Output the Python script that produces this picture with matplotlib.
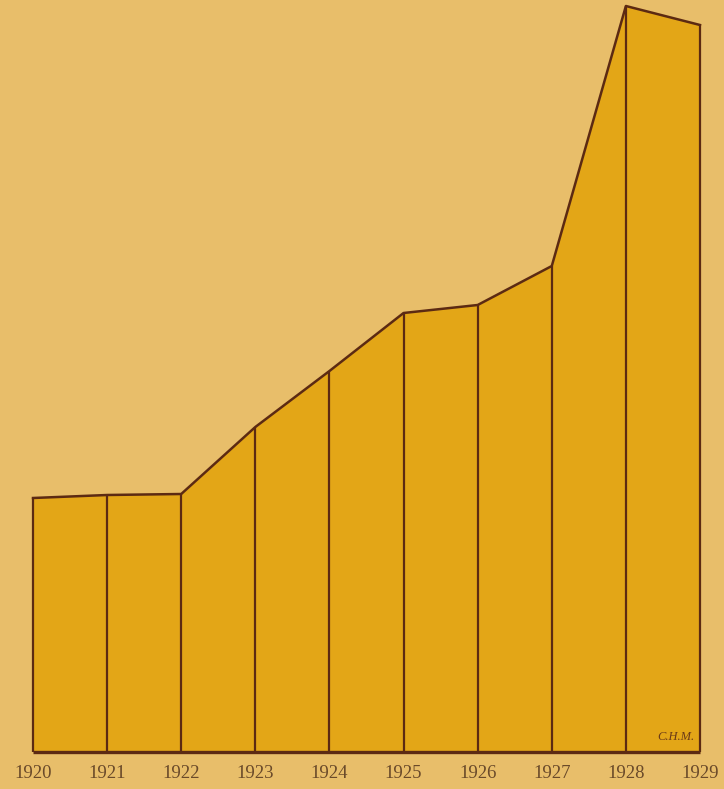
import matplotlib
matplotlib.use("Agg")
import matplotlib.pyplot as plt

years = [1920, 1921, 1922, 1923, 1924, 1925, 1926, 1927, 1928, 1929]
values = [254, 257, 258, 325, 381, 439, 447, 486, 746, 727]
year_labels = [str(y) for y in years]

bg = "#E8BE6A"
fill = "#E3A617"
ink = "#5C2A12"

fig = plt.figure(figsize=(7.24, 7.89), dpi=100, facecolor=bg)
ax = fig.add_axes([33/724, 37/789, (700-33)/724, (752-6)/789])
ax.set_facecolor(bg)
ax.fill_between(years, values, 0, color=fill, lw=0)
ax.plot(years, values, color=ink, lw=1.8, solid_joinstyle="round", clip_on=False)
ax.vlines(years, 0, values, color=ink, lw=1.6, clip_on=False)
ax.plot([years[0], years[-1]], [0, 0], color=ink, lw=2.4, clip_on=False,
        solid_capstyle="butt")
ax.set_xlim(years[0], years[-1])
ax.set_ylim(0, max(values))
for s in ax.spines.values():
    s.set_visible(False)
ax.set_xticks([])
ax.set_yticks([])

for y, lab in zip(years, year_labels):
    ax.text(y, -22, lab, ha="center", va="center", fontsize=13.5,
            family="Liberation Serif", color="#6A4A2A")

ax.text(1928.92, 9, "C.H.M.", ha="right", va="bottom", fontsize=9,
        style="italic", family="Liberation Serif", color="#6A3A18")

fig.savefig("out.png", dpi=100, facecolor=bg)
